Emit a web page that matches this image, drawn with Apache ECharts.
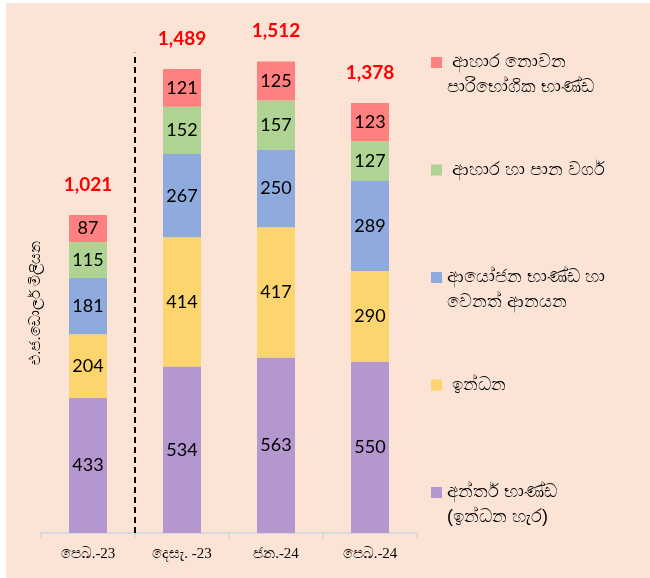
<!DOCTYPE html>
<html>
<head>
<meta charset="utf-8">
<script src="https://cdn.jsdelivr.net/npm/echarts@6/dist/echarts.min.js"></script>
<style>
  html, body { margin: 0; padding: 0; background: #ffffff; }
  #bg { position: absolute; left: 6px; top: 3px; width: 644px; height: 575px; background: #FBE4D6; }
  #chart { position: absolute; left: 0; top: 0; width: 650px; height: 578px; }
</style>
</head>
<body>
<div id="bg"></div>
<div id="chart"></div>
<script>
// ---- data ----
var categories = ['පෙබ.-23', 'දෙසැ. -23', 'ජන.-24', 'පෙබ.-24'];
var seriesNames = [
  'අන්තර් භාණ්ඩ\n(ඉන්ධන හැර)',
  ' ඉන්ධන',
  'ආයෝජන භාණ්ඩ හා\nවෙනත් ආනයන',
  ' ආහාර හා පාන වර්ග',
  ' ආහාර නොවන\nපාරිභෝගික භාණ්ඩ'
];
var intermediate = [433, 534, 563, 550];
var fuel = [204, 414, 417, 290];
var investment = [181, 267, 250, 289];
var foodBev = [115, 152, 157, 127];
var nonFood = [87, 121, 125, 123];
var totals = [1021, 1489, 1512, 1378];
var yAxisTitle = 'එ.ජ.ඩොලර් මිලියන';
var dividerX = [1, 1];
var dividerY = [0, 1540];

var seriesValues = [intermediate, fuel, investment, foodBev, nonFood];
var colors = ['#B497CF', '#FDD56F', '#8FAADC', '#AED392', '#FF8080'];

var chart = echarts.init(document.getElementById('chart'));

var series = seriesValues.map(function (vals, i) {
  return {
    name: seriesNames[i],
    type: 'bar',
    stack: 'total',
    barWidth: 38,
    data: vals,
    itemStyle: { color: colors[i] },
    label: {
      show: true,
      position: 'inside',
      color: '#000',
      fontFamily: 'Lato',
      fontSize: 18
    }
  };
});

series.push({
  name: 'total',
  type: 'bar',
  stack: 'total',
  barWidth: 38,
  data: totals.map(function () { return 0; }),
  itemStyle: { color: 'transparent' },
  label: {
    show: true,
    position: 'top',
    distance: 21,
    color: '#FF0000',
    fontFamily: 'Lato',
    fontWeight: 'bold',
    fontSize: 19,
    formatter: function (p) { return totals[p.dataIndex].toLocaleString('en-US'); }
  },
  silent: true
});

series.push({
  name: 'divider',
  type: 'line',
  xAxisIndex: 1,
  data: [[dividerX[0], dividerY[0]], [dividerX[1], dividerY[1]]],
  symbol: 'none',
  clip: false,
  silent: true,
  lineStyle: { color: '#000', width: 2, type: [6, 4] }
});

var legendOrder = seriesNames.slice().reverse();

chart.setOption({
  animation: false,
  backgroundColor: 'transparent',
  grid: { left: 41, right: 233, top: 34, bottom: 45 },
  xAxis: [{
    type: 'category',
    data: categories,
    axisLine: { lineStyle: { color: '#D9D9D9', width: 2 } },
    axisTick: { show: true, length: 6, lineStyle: { color: '#D9D9D9', width: 2 } },
    axisLabel: { color: '#000', fontFamily: 'Liberation Serif', fontSize: 15, margin: 14 }
  }, {
    type: 'value',
    min: 0,
    max: 4,
    show: false
  }],
  yAxis: {
    type: 'value',
    min: 0,
    max: 1600,
    show: false,
    splitLine: { show: false }
  },
  legend: {
    orient: 'vertical',
    left: 431,
    top: 25,
    padding: 0,
    itemWidth: 11,
    itemHeight: 11,
    itemGap: 32.5,
    icon: 'rect',
    data: legendOrder,
    formatter: function (name) {
      return ' \n' + (name.indexOf('\n') >= 0 ? name : name + '\n ');
    },
    textStyle: {
      color: '#000',
      fontSize: 18,
      lineHeight: 25
    }
  },
  graphic: [{
    type: 'text',
    x: 36,
    y: 303,
    rotation: Math.PI / 2,
    style: {
      text: yAxisTitle,
      fill: '#000',
      fontSize: 15,
      align: 'center',
      verticalAlign: 'middle'
    }
  }],
  series: series
});
</script>
</body>
</html>
